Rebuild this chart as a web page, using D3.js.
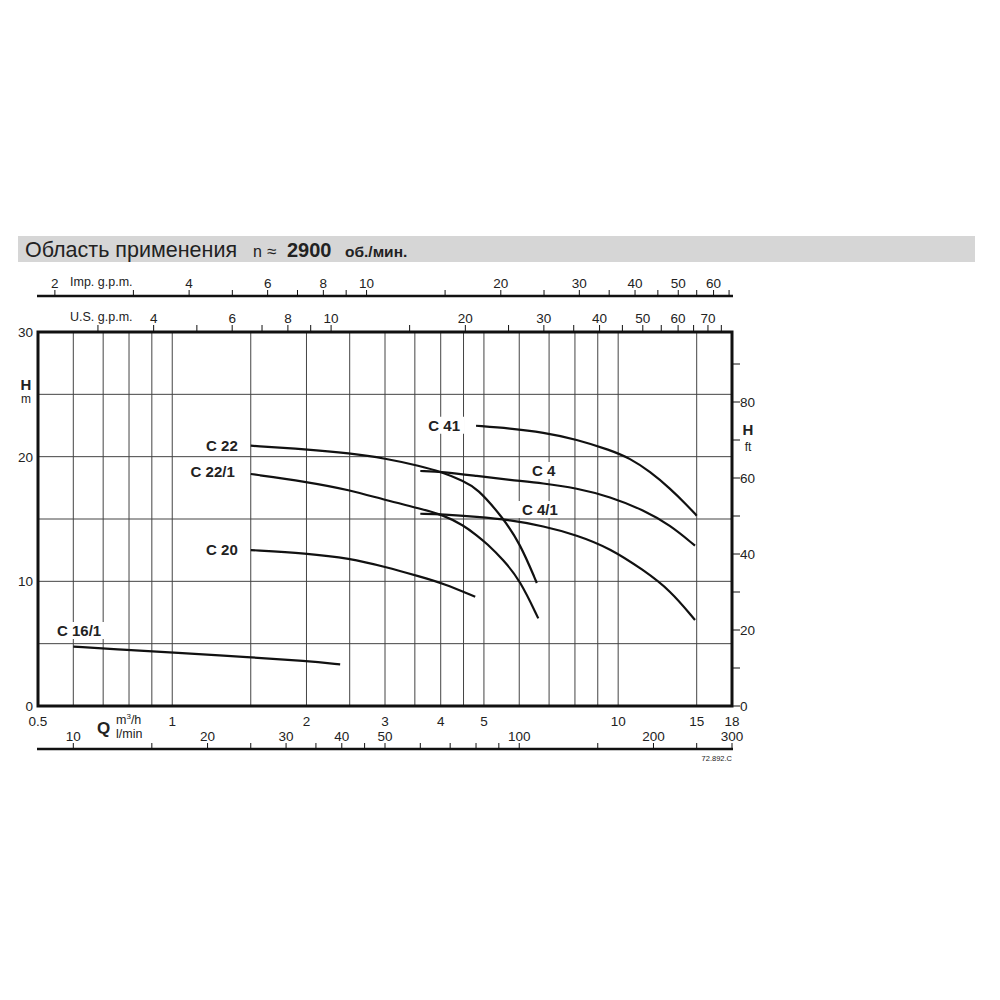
<!DOCTYPE html>
<html><head><meta charset="utf-8">
<script src="https://cdn.jsdelivr.net/npm/d3@7"></script>
<style>body{margin:0;background:#fff} text{font-family:"Liberation Sans",Arial,sans-serif;fill:#222}</style>
</head><body><svg id="c" width="1000" height="1000"></svg>
<script>
// ---- data ----
const qGrid = [0.6,0.7,0.8,0.9,1,1.5,2,2.5,3,3.5,4,4.5,5,6,7,8,9,10,15];
const hGrid = [5,10,15,20,25];
const qLabels = [0.5,1,2,3,4,5,10,15,18];
const lminTicks = [10,15,20,25,30,35,40,45,50,60,70,80,90,100,150,200,250,300];
const lminLabels = [10,20,30,40,50,100,200,300];
const impTicks = [2,3,4,5,6,7,8,9,10,15,20,25,30,35,40,45,50,55,60,65];
const impLabels = [2,4,6,8,10,20,30,40,50,60];
const usTicks = [3,4,5,6,7,8,9,10,15,20,25,30,35,40,45,50,55,60,65,70,75];
const usLabels = [4,6,8,10,20,30,40,50,60,70];
const hLabels = [0,10,20,30];
const ftTicks = [0,10,20,30,40,50,60,70,80,90];
const ftLabels = [0,20,40,60,80];

const names = ["C 16/1","C 20","C 22","C 22/1","C 41","C 4","C 4/1"];
const q_C16_1 = [0.6,0.8,1,1.5,2,2.38];
const h_C16_1 = [4.76,4.49,4.30,3.91,3.61,3.34];
const q_C20 = [1.5,2,2.5,3,3.6,4.05,4.78];
const h_C20 = [12.51,12.25,11.85,11.17,10.37,9.84,8.77];
const q_C22 = [1.5,2,2.5,3,3.6,4.02,4.5,4.82,5.5,6.02,6.57];
const h_C22 = [20.88,20.59,20.27,19.87,19.25,18.77,18.05,17.49,15.16,13.07,9.87];
const q_C22_1 = [1.5,2,2.5,3,3.6,4.05,4.5,4.82,5.07,5.53,6.02,6.62];
const h_C22_1 = [18.61,17.99,17.33,16.52,15.84,15.32,14.5,13.68,13.05,11.71,10.11,7.03];
const q_C41 = [4.8,5.72,6.79,8.07,9.59,10.63,11.79,13.07,14.25,15.0];
const h_C41 = [22.48,22.27,21.95,21.39,20.53,19.87,18.8,17.46,16.13,15.27];
const q_C4 = [3.6,4.05,4.82,5.72,6.79,8.07,9.59,11.39,13.07,14.87];
const h_C4 = [18.85,18.79,18.45,18.13,17.87,17.47,16.79,15.72,14.52,12.86];
const q_C4_1 = [3.6,4.05,4.82,5.72,6.79,8.07,9.59,11.39,13.07,14.87];
const h_C4_1 = [15.42,15.37,15.18,14.92,14.44,13.72,12.65,10.91,9.3,6.9];

// ---- conversions ----
const M3H_TO_IMP = 1000/60/4.54609;
const M3H_TO_US = 1000/60/3.785411784;
const M3H_TO_LMIN = 1000/60;
const M_TO_FT = 3.28084;

const L = 38, R = 732, T = 332, B = 706;
const x = d3.scaleLog().domain([0.5,18]).range([L,R]);
const y = d3.scaleLinear().domain([0,30]).range([B,T]);
const xImp = d3.scaleLog().domain([0.5*M3H_TO_IMP,18*M3H_TO_IMP]).range([L,R]);
const xUS = d3.scaleLog().domain([0.5*M3H_TO_US,18*M3H_TO_US]).range([L,R]);
const xL = d3.scaleLog().domain([0.5*M3H_TO_LMIN,18*M3H_TO_LMIN]).range([L,R]);
const yFt = d3.scaleLinear().domain([0,30*M_TO_FT]).range([B,T]);

const svg = d3.select("#c");

// header
svg.append("rect").attr("x",18).attr("y",236).attr("width",957).attr("height",26).attr("fill","#d6d6d6");
const title = svg.append("text").attr("y",257);
title.append("tspan").attr("x",25).attr("font-size",21.5).text("Область применения");
title.append("tspan").attr("x",253).attr("font-size",16).text("n");
title.append("tspan").attr("x",267).attr("font-size",17).text("≈");
title.append("tspan").attr("x",287).attr("font-size",20).attr("font-weight","bold").text("2900");
title.append("tspan").attr("x",345).attr("font-size",15.5).attr("font-weight","bold").text("об./мин.");

// grid
const g = svg.append("g");
g.selectAll(".vg").data(qGrid).join("line")
  .attr("x1",d=>x(d)).attr("x2",d=>x(d)).attr("y1",T).attr("y2",B)
  .attr("stroke","#444").attr("stroke-width",1);
g.selectAll(".hg").data(hGrid).join("line")
  .attr("y1",d=>y(d)).attr("y2",d=>y(d)).attr("x1",L).attr("x2",R)
  .attr("stroke","#444").attr("stroke-width",1);

// curves
const series = [
  [q_C16_1,h_C16_1],[q_C20,h_C20],[q_C22,h_C22],[q_C22_1,h_C22_1],
  [q_C41,h_C41],[q_C4,h_C4],[q_C4_1,h_C4_1]
];
const line = d3.line().x(d=>x(d[0])).y(d=>y(d[1])).curve(d3.curveBasis);
series.forEach(([qs,hs])=>{
  svg.append("path").attr("d",line(qs.map((q,i)=>[q,hs[i]])))
    .attr("fill","none").attr("stroke","#111").attr("stroke-width",2.2).attr("stroke-linecap","butt");
});

// curve labels (layout offsets)
const labelPos = [
  {xabs:57,yabs:636,anchor:"start"},
  {dx:-13,dy:5,anchor:"end"},
  {dx:-13,dy:5,anchor:"end"},
  {dx:-16,dy:3,anchor:"end"},
  {dx:-16,dy:5,anchor:"end"},
  {xabs:532,yabs:476,anchor:"start"},
  {xabs:522,yabs:515,anchor:"start"}
];
names.forEach((n,i)=>{
  const [qs,hs] = series[i];
  const p = labelPos[i];
  let tx, ty;
  if (p.xabs!==undefined){tx=p.xabs;ty=p.yabs;}
  else {tx=x(qs[0])+p.dx; ty=y(hs[0])+p.dy;}
  const t = svg.append("text").attr("x",tx).attr("y",ty).attr("text-anchor",p.anchor)
    .attr("font-size",15).attr("font-weight","bold").text(n);
  const bb = t.node().getBBox();
  svg.insert("rect", () => t.node()).attr("x",bb.x-4).attr("y",bb.y).attr("width",bb.width+8).attr("height",bb.height)
    .attr("fill","#fff");
});

// frame
svg.append("rect").attr("x",L).attr("y",T).attr("width",R-L).attr("height",B-T)
  .attr("fill","none").attr("stroke","#111").attr("stroke-width",3);

// left axis labels
svg.selectAll(".hl").data(hLabels).join("text").attr("x",33).attr("y",d=>y(d)+5)
  .attr("text-anchor","end").attr("font-size",13.5).text(d=>d);
svg.append("text").attr("x",26).attr("y",390).attr("text-anchor","middle").attr("font-size",15).attr("font-weight","bold").text("H");
svg.append("text").attr("x",26).attr("y",403).attr("text-anchor","middle").attr("font-size",12).text("m");

// right axis (ft)
svg.selectAll(".ft").data(ftTicks).join("line").attr("x1",R).attr("x2",R+8)
  .attr("y1",d=>yFt(d)).attr("y2",d=>yFt(d)).attr("stroke","#111").attr("stroke-width",1);
svg.selectAll(".ftl").data(ftLabels).join("text").attr("x",R+8).attr("y",d=>yFt(d)+5)
  .attr("font-size",13.5).text(d=>d);
svg.append("text").attr("x",748).attr("y",435).attr("text-anchor","middle").attr("font-size",15).attr("font-weight","bold").text("H");
svg.append("text").attr("x",748).attr("y",451).attr("text-anchor","middle").attr("font-size",12).text("ft");

// bottom m3/h labels
svg.selectAll(".ql").data(qLabels).join("text").attr("x",d=>x(d)).attr("y",726)
  .attr("text-anchor","middle").attr("font-size",13.5).text(d=>d);
svg.append("text").attr("x",97).attr("y",734).attr("font-size",17).attr("font-weight","bold").text("Q");
const mt = svg.append("text").attr("x",116).attr("y",724).attr("font-size",12.5);
mt.append("tspan").text("m");
mt.append("tspan").attr("font-size",8).attr("dy",-5).text("3");
mt.append("tspan").attr("dy",5).text("/h");
svg.append("text").attr("x",116).attr("y",738).attr("font-size",12.5).text("l/min");

// l/min axis
const ly = 749;
svg.append("line").attr("x1",L-1).attr("x2",R+1).attr("y1",ly).attr("y2",ly).attr("stroke","#111").attr("stroke-width",2.5);
svg.selectAll(".lt").data(lminTicks).join("line").attr("x1",d=>xL(d)).attr("x2",d=>xL(d))
  .attr("y1",ly).attr("y2",ly-6).attr("stroke","#111").attr("stroke-width",1);
svg.selectAll(".ll").data(lminLabels).join("text").attr("x",d=>xL(d)).attr("y",741)
  .attr("text-anchor","middle").attr("font-size",13.5).text(d=>d);
svg.append("text").attr("x",732).attr("y",761).attr("text-anchor","end").attr("font-size",7.5).text("72.892.C");

// Imp gpm axis
const iy = 296;
svg.append("line").attr("x1",L-1).attr("x2",R+1).attr("y1",iy).attr("y2",iy).attr("stroke","#111").attr("stroke-width",2.5);
svg.selectAll(".it").data(impTicks).join("line").attr("x1",d=>xImp(d)).attr("x2",d=>xImp(d))
  .attr("y1",iy).attr("y2",iy-6).attr("stroke","#111").attr("stroke-width",1);
svg.selectAll(".il").data(impLabels).join("text").attr("x",d=>xImp(d)).attr("y",288)
  .attr("text-anchor","middle").attr("font-size",13.5).text(d=>d);
svg.append("text").attr("x",70).attr("y",286).attr("font-size",12.5).text("Imp. g.p.m.");

// US gpm axis
svg.selectAll(".ut").data(usTicks).join("line").attr("x1",d=>xUS(d)).attr("x2",d=>xUS(d))
  .attr("y1",T).attr("y2",T-7).attr("stroke","#111").attr("stroke-width",1);
svg.selectAll(".ul").data(usLabels).join("text").attr("x",d=>xUS(d)).attr("y",323)
  .attr("text-anchor","middle").attr("font-size",13.5).text(d=>d);
svg.append("text").attr("x",70).attr("y",321).attr("font-size",12.5).text("U.S. g.p.m.");
</script></body></html>
